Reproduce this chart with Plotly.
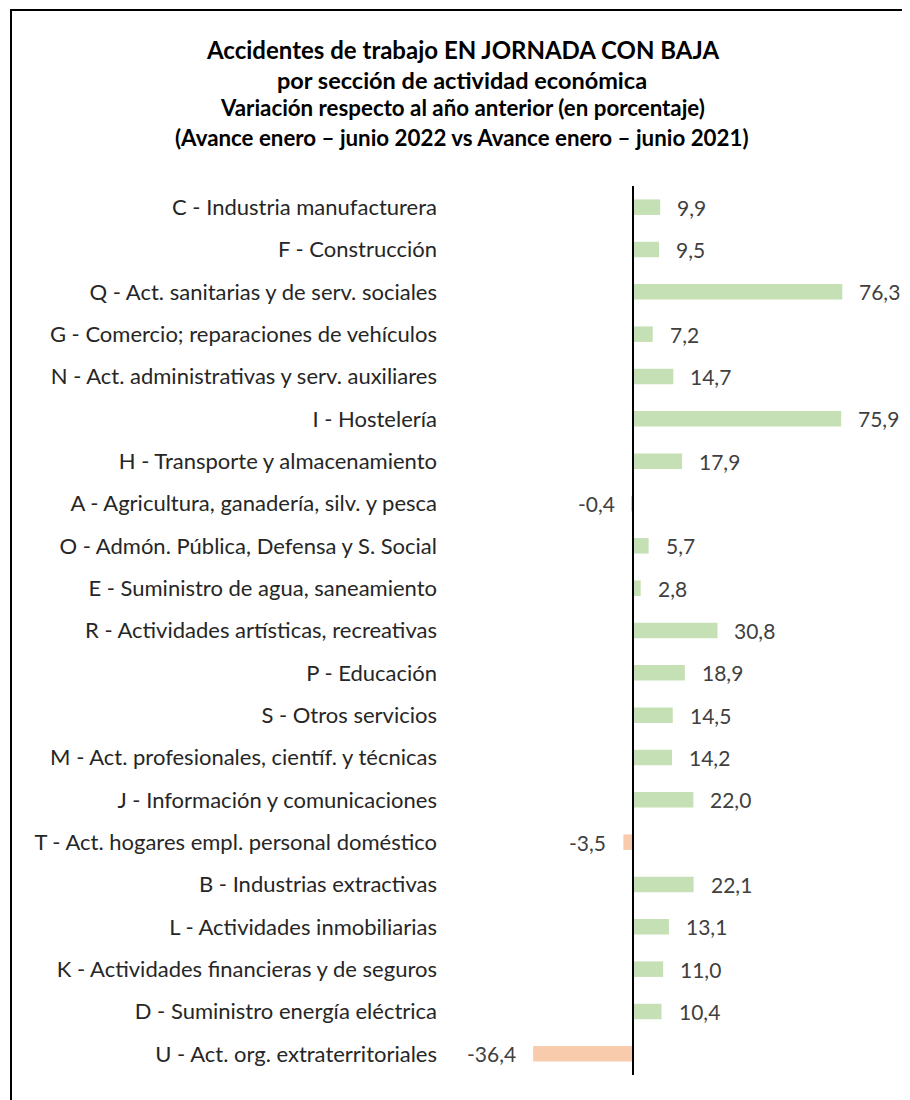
import plotly.graph_objects as go

categories = [
    "C - Industria manufacturera",
    "F - Construcción",
    "Q - Act. sanitarias y de serv. sociales",
    "G - Comercio; reparaciones de vehículos",
    "N - Act. administrativas y serv. auxiliares",
    "I - Hostelería",
    "H - Transporte y almacenamiento",
    "A - Agricultura, ganadería, silv. y pesca",
    "O - Admón. Pública, Defensa y S. Social",
    "E - Suministro de agua, saneamiento",
    "R - Actividades artísticas, recreativas",
    "P - Educación",
    "S - Otros servicios",
    "M - Act. profesionales, científ. y técnicas",
    "J - Información y comunicaciones",
    "T - Act. hogares empl. personal doméstico",
    "B - Industrias extractivas",
    "L - Actividades inmobiliarias",
    "K - Actividades financieras y de seguros",
    "D - Suministro energía eléctrica",
    "U - Act. org. extraterritoriales",
]
values = [9.9, 9.5, 76.3, 7.2, 14.7, 75.9, 17.9, -0.4, 5.7, 2.8, 30.8,
          18.9, 14.5, 14.2, 22.0, -3.5, 22.1, 13.1, 11.0, 10.4, -36.4]

title_lines = [
    "Accidentes de trabajo EN JORNADA CON BAJA",
    "por sección de actividad económica",
    "Variación respecto al año anterior (en porcentaje)",
    "(Avance enero – junio 2022 vs Avance enero – junio 2021)",
]

GREEN = "#C5E0B4"
ORANGE = "#F8CBAD"
FONT = "Lato"

OFF = 8  # page body margin offset
W, H = 910, 1100
# target coordinates (as in the reference picture) minus the body offset
L, R = 438 - OFF, 902 - OFF
T, B = 186 - OFF, 1075 - OFF
k = 2.743
zero_px = 633 - OFF
xmin = (L - zero_px) / k
xmax = (R - zero_px) / k

colors = [GREEN if v >= 0 else ORANGE for v in values]

fig = go.Figure(go.Bar(
    x=values, y=categories, orientation="h",
    marker=dict(color=colors, line=dict(width=0)),
    width=0.366, hoverinfo="x+y",
))

def fmt(v):
    return f"{v:.1f}".replace(".", ",")

annotations = []
for c, v in zip(categories, values):
    annotations.append(dict(
        x=v, y=c, xref="x", yref="y", text=fmt(v), showarrow=False,
        xanchor="left" if v >= 0 else "right",
        xshift=15 if v >= 0 else -15,
        font=dict(family=FONT, size=21, color="#404040"),
    ))

def px_x(p):
    return (p - OFF - L) / (R - L)

def px_y(p):
    return (B - (p - OFF)) / (B - T)

title_y = [50, 80, 108, 137]
title_sizes = [24, 23.5, 22.3, 22.3]
for t, yy, s in zip(title_lines, title_y, title_sizes):
    annotations.append(dict(
        x=px_x(462), y=px_y(yy), xref="paper", yref="paper",
        text=f"<b>{t}</b>", showarrow=False, xanchor="center", yanchor="middle",
        font=dict(family=FONT, size=s, color="#000000"),
    ))

fig.update_layout(
    width=W, height=H,
    margin=dict(l=L, r=W - R, t=T, b=H - B, pad=0),
    paper_bgcolor="white", plot_bgcolor="white",
    showlegend=False,
    annotations=annotations,
    shapes=[
        dict(type="rect", xref="paper", yref="paper",
             x0=px_x(11), x1=px_x(940), y0=px_y(1140), y1=px_y(10),
             line=dict(color="black", width=2), fillcolor="rgba(0,0,0,0)"),
        dict(type="line", xref="x", yref="paper", x0=0, x1=0, y0=0, y1=1,
             line=dict(color="black", width=2)),
    ],
    xaxis=dict(range=[xmin, xmax], showgrid=False, zeroline=False,
               showticklabels=False, showline=False, fixedrange=True),
    yaxis=dict(type="category", autorange="reversed", showgrid=False,
               zeroline=False, showline=False, ticks="", ticklen=0,
               tickfont=dict(family=FONT, size=22, color="#262626")),
)

fig.write_html("out.html")
